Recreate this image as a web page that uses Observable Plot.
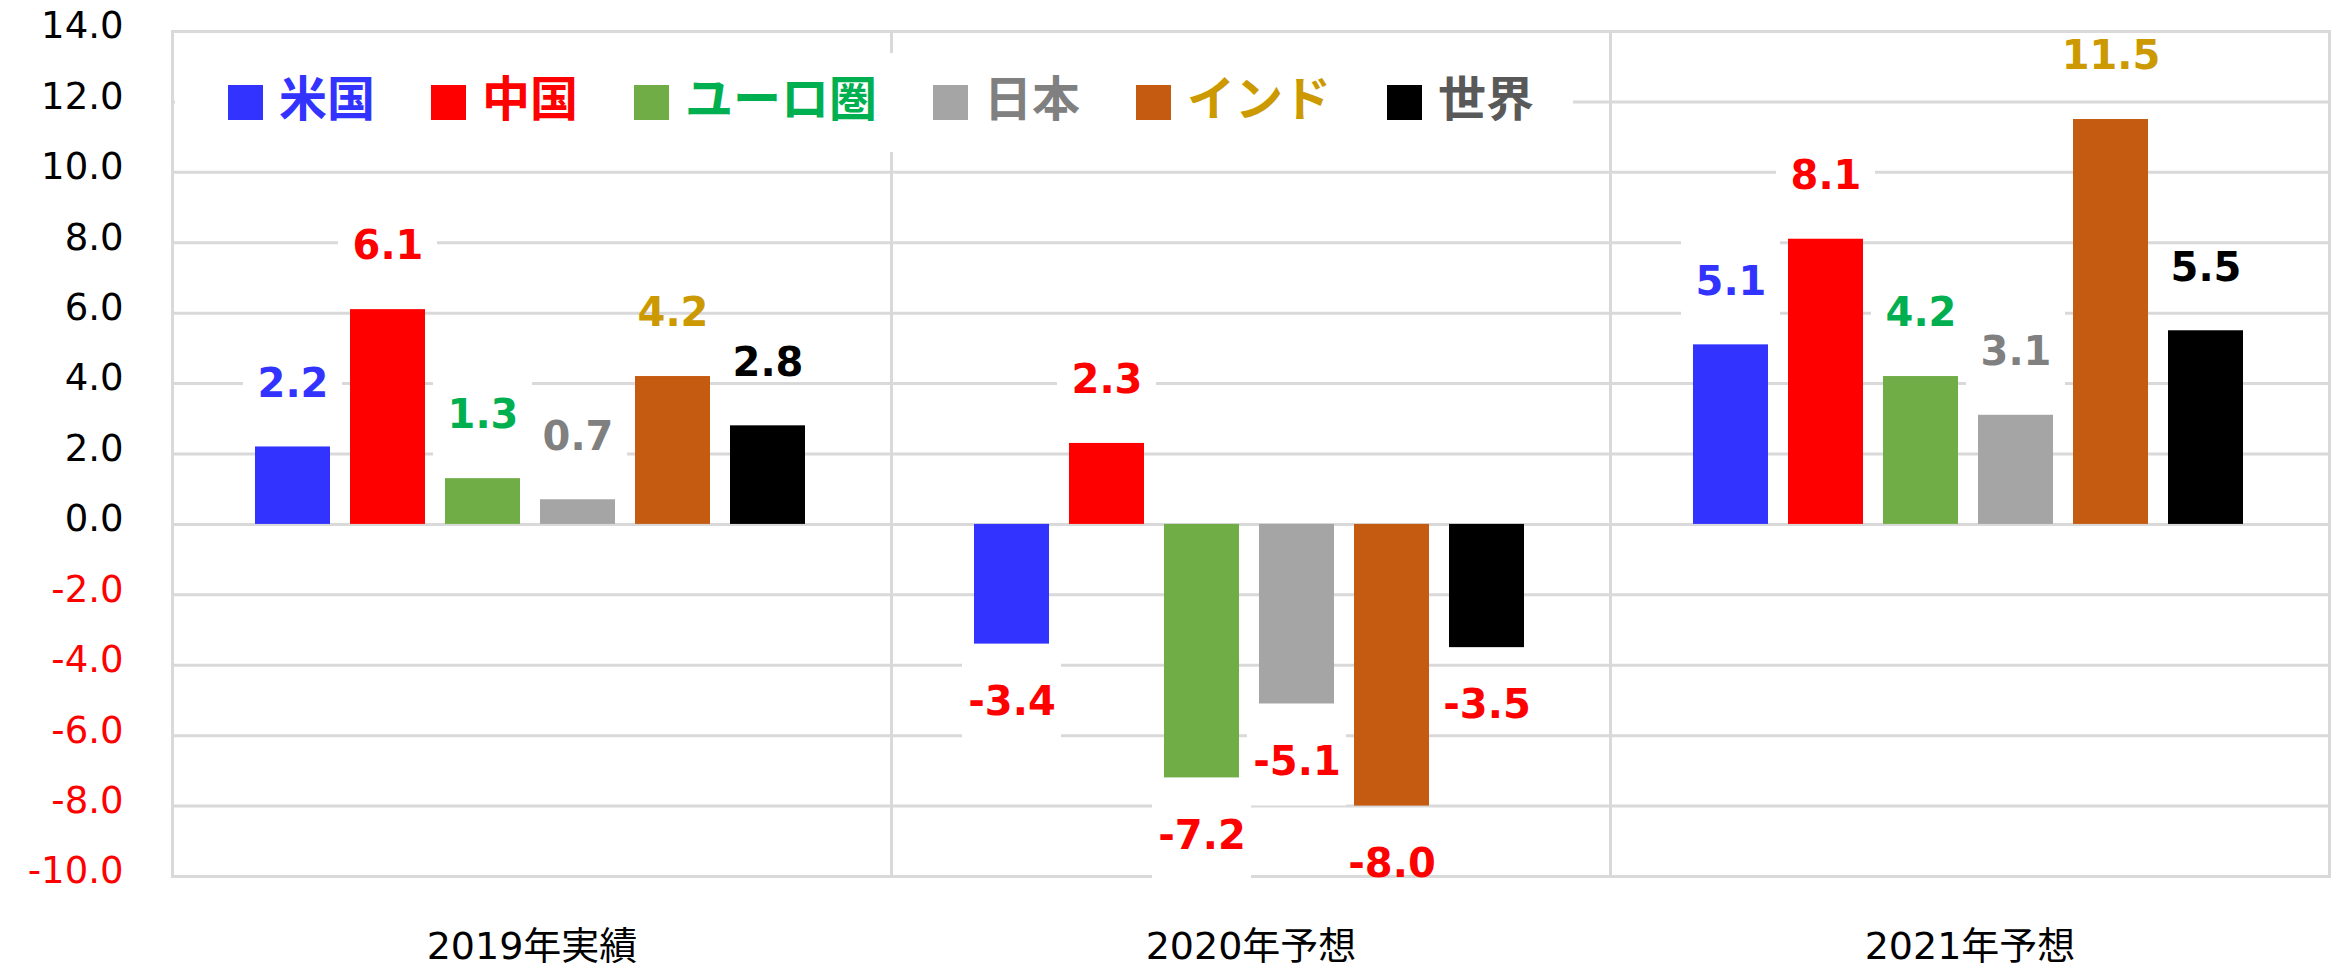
<!DOCTYPE html>
<html><head><meta charset="utf-8">
<script src="https://cdn.jsdelivr.net/npm/d3@7"></script>
<script src="https://cdn.jsdelivr.net/npm/@observablehq/plot@0.6"></script>
<style>
html,body{margin:0;padding:0;background:#fff;}
#wrap{position:relative;width:2336px;height:968px;overflow:hidden;}
#legend{position:absolute;left:175px;top:53px;width:1398px;height:99px;background:#fff;display:flex;align-items:center;box-sizing:border-box;padding-left:53px;font-family:"Noto Sans CJK JP",sans-serif;font-weight:bold;font-size:48px;line-height:1;}
.item{display:flex;align-items:center;margin-right:56px;}
.sw{width:35px;height:35px;margin-right:16px;flex:none;}
.lt{position:relative;top:-8px;white-space:nowrap;}
</style></head><body><div id="wrap"></div>
<script>
const categories = ["2019年実績", "2020年予想", "2021年予想"];
const seriesNames = ["米国", "中国", "ユーロ圏", "日本", "インド", "世界"];
const values2019 = [2.2, 6.1, 1.3, 0.7, 4.2, 2.8];
const values2020 = [-3.4, 2.3, -7.2, -5.1, -8.0, -3.5];
const values2021 = [5.1, 8.1, 4.2, 3.1, 11.5, 5.5];
const yTicks = [-10, -8, -6, -4, -2, 0, 2, 4, 6, 8, 10, 12, 14];

const barColors = ["#3333FF", "#FF0000", "#70AD47", "#A5A5A5", "#C55A11", "#000000"];
const labelColors = ["#3333FF", "#FF0000", "#00B050", "#808080", "#CC9900", "#000000"];
const legendTextColors = ["#3333FF", "#FF0000", "#00B050", "#808080", "#CC9900", "#595959"];
const boxedSeries = ["米国", "中国", "ユーロ圏", "日本"];

const valuesByCategory = [values2019, values2020, values2021];
const rows = [];
categories.forEach((c, ci) => {
  seriesNames.forEach((s, si) => rows.push({category: c, series: s, value: valuesByCategory[ci][si]}));
});

const sIdx = s => seriesNames.indexOf(s);
const labelFill = d => d.value < 0 ? "#FF0000" : labelColors[sIdx(d.series)];
const pos = rows.filter(d => d.value >= 0);
const neg = rows.filter(d => d.value < 0);
const boxed = d => boxedSeries.includes(d.series);
const fmt = v => v.toFixed(1);

const boxOpts = {fx: "category", x: "series", y1: "value", y2: "value",
  insetTop: -44, insetBottom: -44, insetLeft: -12, insetRight: -12, fill: "#FFFFFF"};
const textOpts = {fx: "category", x: "series", y: "value", text: d => fmt(d.value),
  fill: labelFill, fontSize: 40, fontWeight: "bold"};

const chart = Plot.plot({
  width: 2336,
  height: 968,
  marginLeft: 171,
  marginRight: 7,
  marginTop: 31,
  marginBottom: 92,
  style: {fontFamily: '"DejaVu Sans","Noto Sans CJK JP",sans-serif', background: "#FFFFFF", color: "#000"},
  fx: {domain: categories, padding: 0},
  x: {domain: seriesNames, paddingInner: 0.212, paddingOuter: 0.884, axis: null},
  y: {domain: [-10, 14]},
  color: {type: "identity"},
  marks: [
    Plot.gridY(yTicks, {stroke: "#D9D9D9", strokeOpacity: 1, strokeWidth: 3}),
    Plot.frame({stroke: "#D9D9D9", strokeWidth: 3}),
    Plot.barY(rows, {fx: "category", x: "series", y: "value", fill: d => barColors[sIdx(d.series)], dx: -2}),
    Plot.barY(pos.filter(boxed), {...boxOpts, dx: -2, dy: -63}),
    Plot.barY(neg.filter(boxed), {...boxOpts, dx: -2, dy: 58}),
    Plot.text(pos, {...textOpts, dx: -2, dy: -63}),
    Plot.text(neg, {...textOpts, dx: -2, dy: 58}),
    Plot.axisY(yTicks, {tickSize: 0, tickPadding: 49, tickFormat: fmt, label: null,
      fill: d => d < 0 ? "#FF0000" : "#000000", fontSize: 37, dy: -5}),
    Plot.axisFx({anchor: "bottom", tickSize: 0, tickPadding: 56, fontSize: 38, label: null, fill: "#000000"})
  ]
});

const wrap = document.getElementById("wrap");
wrap.appendChild(chart);

const legend = document.createElement("div");
legend.id = "legend";
seriesNames.forEach((s, i) => {
  const item = document.createElement("div");
  item.className = "item";
  const sw = document.createElement("div");
  sw.className = "sw";
  sw.style.background = barColors[i];
  const t = document.createElement("span");
  t.className = "lt";
  t.textContent = s;
  t.style.color = legendTextColors[i];
  item.appendChild(sw);
  item.appendChild(t);
  legend.appendChild(item);
});
wrap.appendChild(legend);
</script>
</body></html>
